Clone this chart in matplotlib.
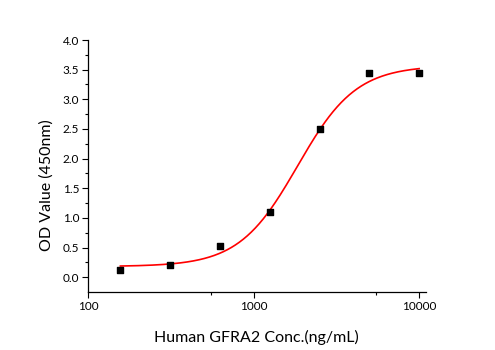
import numpy as np
import matplotlib
matplotlib.use("Agg")
import matplotlib.pyplot as plt
from matplotlib.ticker import FixedLocator, NullFormatter

# --- data ---
conc = [156.25, 312.5, 625, 1250, 2500, 5000, 10000]
od = [0.12, 0.21, 0.53, 1.10, 2.50, 3.44, 3.44]

# 4PL fit parameters (bottom, top, EC50, hill)
fit_bottom = 0.18
fit_top = 3.57
fit_ec50 = 1840
fit_hill = 2.45

y_ticks = [0.0, 0.5, 1.0, 1.5, 2.0, 2.5, 3.0, 3.5, 4.0]
x_ticks = [100, 1000, 10000]
x_minor = [550, 5500]

plt.rcParams["font.family"] = ["Lato", "DejaVu Sans"]

fig = plt.figure(figsize=(4.95, 3.5), dpi=100)
ax = fig.add_axes([0.1784, 0.1657, 0.6822, 0.72])

xs = np.logspace(np.log10(conc[0]), np.log10(conc[-1]), 300)
ys = fit_bottom + (fit_top - fit_bottom) * (xs / fit_ec50) ** fit_hill / (1 + (xs / fit_ec50) ** fit_hill)
ax.plot(xs, ys, color="#ff0000", lw=1.2, zorder=2)
ax.scatter(conc, od, marker="s", s=22, color="black", zorder=3)

ax.set_xscale("log")
ax.set_xlim(100, 11000)
ax.set_ylim(-0.25, 4.0)

ax.xaxis.set_major_locator(FixedLocator(x_ticks))
ax.xaxis.set_minor_locator(FixedLocator(x_minor))
ax.xaxis.set_minor_formatter(NullFormatter())
ax.set_xticklabels([str(t) for t in x_ticks])
ax.set_yticks(y_ticks)
ax.set_yticklabels([f"{t:.1f}" for t in y_ticks])
ax.yaxis.set_minor_locator(FixedLocator(np.arange(-0.25, 4.0, 0.5) + 0.5))

for s in ["top", "right"]:
    ax.spines[s].set_visible(False)
for s in ["left", "bottom"]:
    ax.spines[s].set_linewidth(0.9)

ax.tick_params(which="major", direction="out", length=4.5, width=0.8, labelsize=8.5, pad=2)
ax.tick_params(which="minor", direction="out", length=2.2, width=0.8)

fig.text(0.518, 1 - 337 / 350, "Human GFRA2 Conc.(ng/mL)", ha="center", va="center", fontsize=11.5)
fig.text(47 / 495, 1 - 185 / 350, "OD Value (450nm)", ha="center", va="center", rotation=90, fontsize=11.5)

fig.savefig("out.png", dpi=100)
